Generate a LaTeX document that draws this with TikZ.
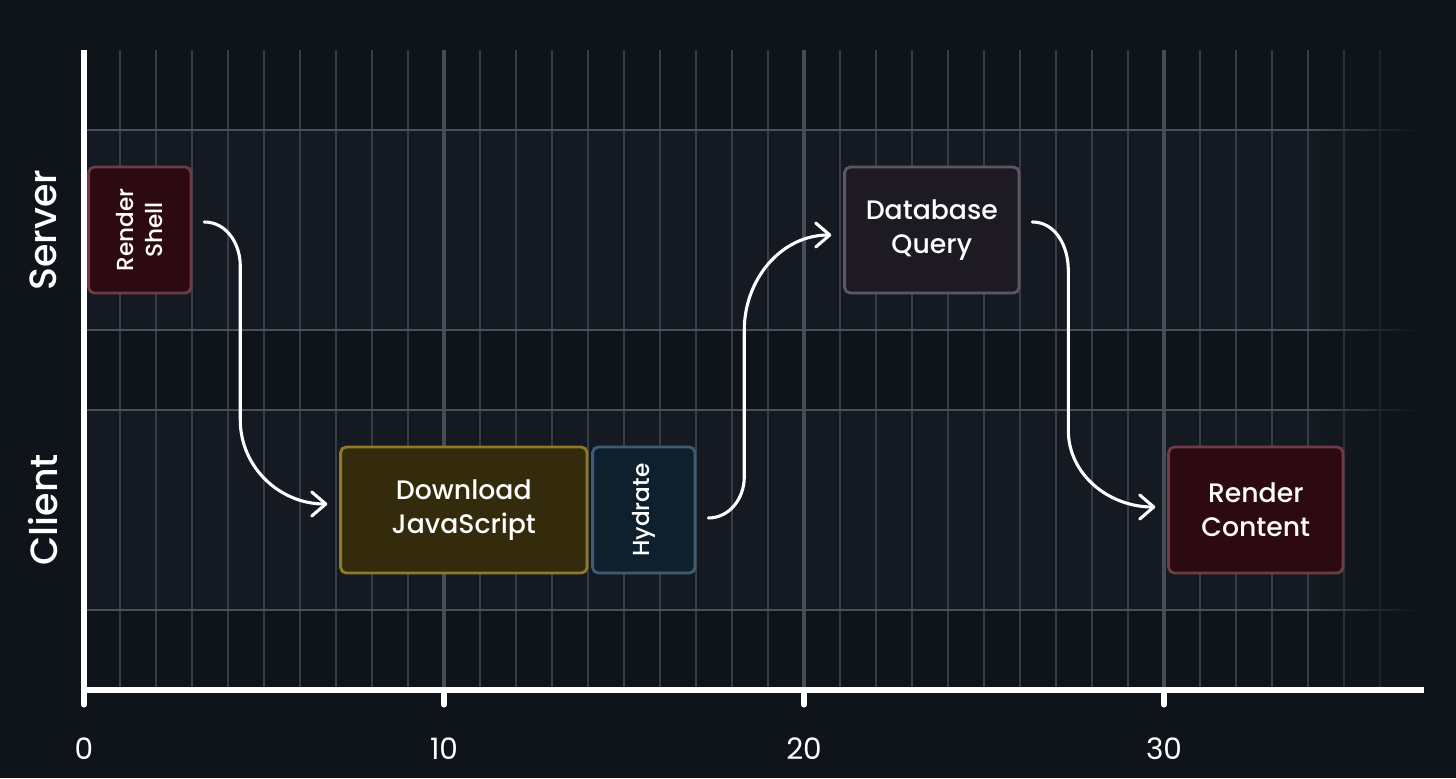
\documentclass[tikz,border=0pt]{standalone}
\usepackage{fontspec}
\setmainfont{Poppins}
\newfontfamily\medfont{Poppins Medium}
\usetikzlibrary{calc,arrows.meta,fadings}

\definecolor{bg}{HTML}{0F131A}
\definecolor{lane}{HTML}{151A22}
\definecolor{gridminor}{HTML}{373D46}
\definecolor{gridmajor}{HTML}{474D56}
\definecolor{laneline}{HTML}{4A5059}
\definecolor{shellfill}{HTML}{2D0911}
\definecolor{shellline}{HTML}{6E3B48}
\definecolor{jsfill}{HTML}{332B0B}
\definecolor{jsline}{HTML}{8F7A27}
\definecolor{hydfill}{HTML}{0E1F2D}
\definecolor{hydline}{HTML}{3F5C73}
\definecolor{dbfill}{HTML}{1E1A24}
\definecolor{dbline}{HTML}{5E5667}

\tikzset{
  task/.style={rounded corners=4pt, line width=2pt, minimum height=3.15cm,
    text=white, align=center, font=\medfont\fontsize{19}{24}\selectfont},
  sidetext/.style={rotate=90, text=white, align=center,
    font=\medfont\fontsize{16.5}{20.5}\selectfont},
  lanelabel/.style={rotate=90, text=white, font=\medfont\fontsize{27}{32}\selectfont},
  flow/.style={white, line width=2.2pt, line cap=round,
    -{Straight Barb[length=3.5mm,width=6mm,round]}},
}

\begin{document}
\begin{tikzpicture}[x=0.9cm, y=0.5cm]
\useasboundingbox (-2.3333,-4.4) rectangle (38.1111,34.5);
\fill[bg] (-2.3333,-4.4) rectangle (38.1111,34.5);

% Lanes
\fill[lane] (0,18) rectangle (37,28);
\fill[lane] (0,4) rectangle (37,14);

% Grid
\foreach \x in {1,...,36} \draw[gridminor, line width=1.5pt] (\x,0) -- (\x,32);
\foreach \x in {10,20,30} \draw[gridmajor, line width=2.2pt] (\x,0) -- (\x,32);
\foreach \y in {4,14,18,28} \draw[laneline, line width=1.5pt] (0,\y) -- (37,\y);

% Fade out to the right
\fill[bg, path fading=west] (34,0.2) rectangle (37.1,32.1);

% Axes
\draw[white, line width=3.6pt] (0,32) -- (0,0) -- (37.22,0);
\foreach \x in {0,10,20,30} {
  \draw[white, line width=3.6pt, line cap=round] (\x,0) -- (\x,-0.75);
  \node[white, font=\fontsize{21}{25}\selectfont] (t\x) at (\x,-2.95) {\x};
}

% Lane labels
\node[lanelabel] (server) at (-1.14,23) {Server};
\node[lanelabel] (client) at (-1.14,9) {Client};

% Tasks
\node[task, fill=shellfill, draw=shellline, minimum width=2.56cm] (shell) at (1.55,23) {};
\node[sidetext] (shelltext) at (shell) {Render\\Shell};
\node[task, fill=jsfill, draw=jsline, minimum width=6.16cm] (js) at (10.55,9) {Download\\JavaScript};
\node[task, fill=hydfill, draw=hydline, minimum width=2.56cm] (hyd) at (15.55,9) {};
\node[sidetext] (hydtext) at (hyd) {Hydrate};
\node[task, fill=dbfill, draw=dbline, minimum width=4.36cm] (db) at (23.55,23) {Database\\Query};
\node[task, fill=shellfill, draw=shellline, minimum width=4.36cm] (content) at (32.55,9) {Render\\Content};

% Arrows
\draw[flow] ($(shell.east)+(0.33,0.4)$) to[out=0,in=90] ++(1,-2.2) -- ++(0,-7.7)
  to[out=-90,in=180] ($(js.west)+(-0.33,0.3)$);
\draw[flow] ($(hyd.east)+(0.33,-0.4)$) to[out=0,in=-90] ++(1,2.05) -- ++(0,7.35)
  to[out=90,in=180] ($(db.west)+(-0.33,-0.25)$);
\draw[flow] ($(db.east)+(0.33,0.4)$) to[out=0,in=90] ++(1,-2.4) -- ++(0,-8)
  to[out=-90,in=180] ($(content.west)+(-0.33,0.15)$);
\end{tikzpicture}
\end{document}
